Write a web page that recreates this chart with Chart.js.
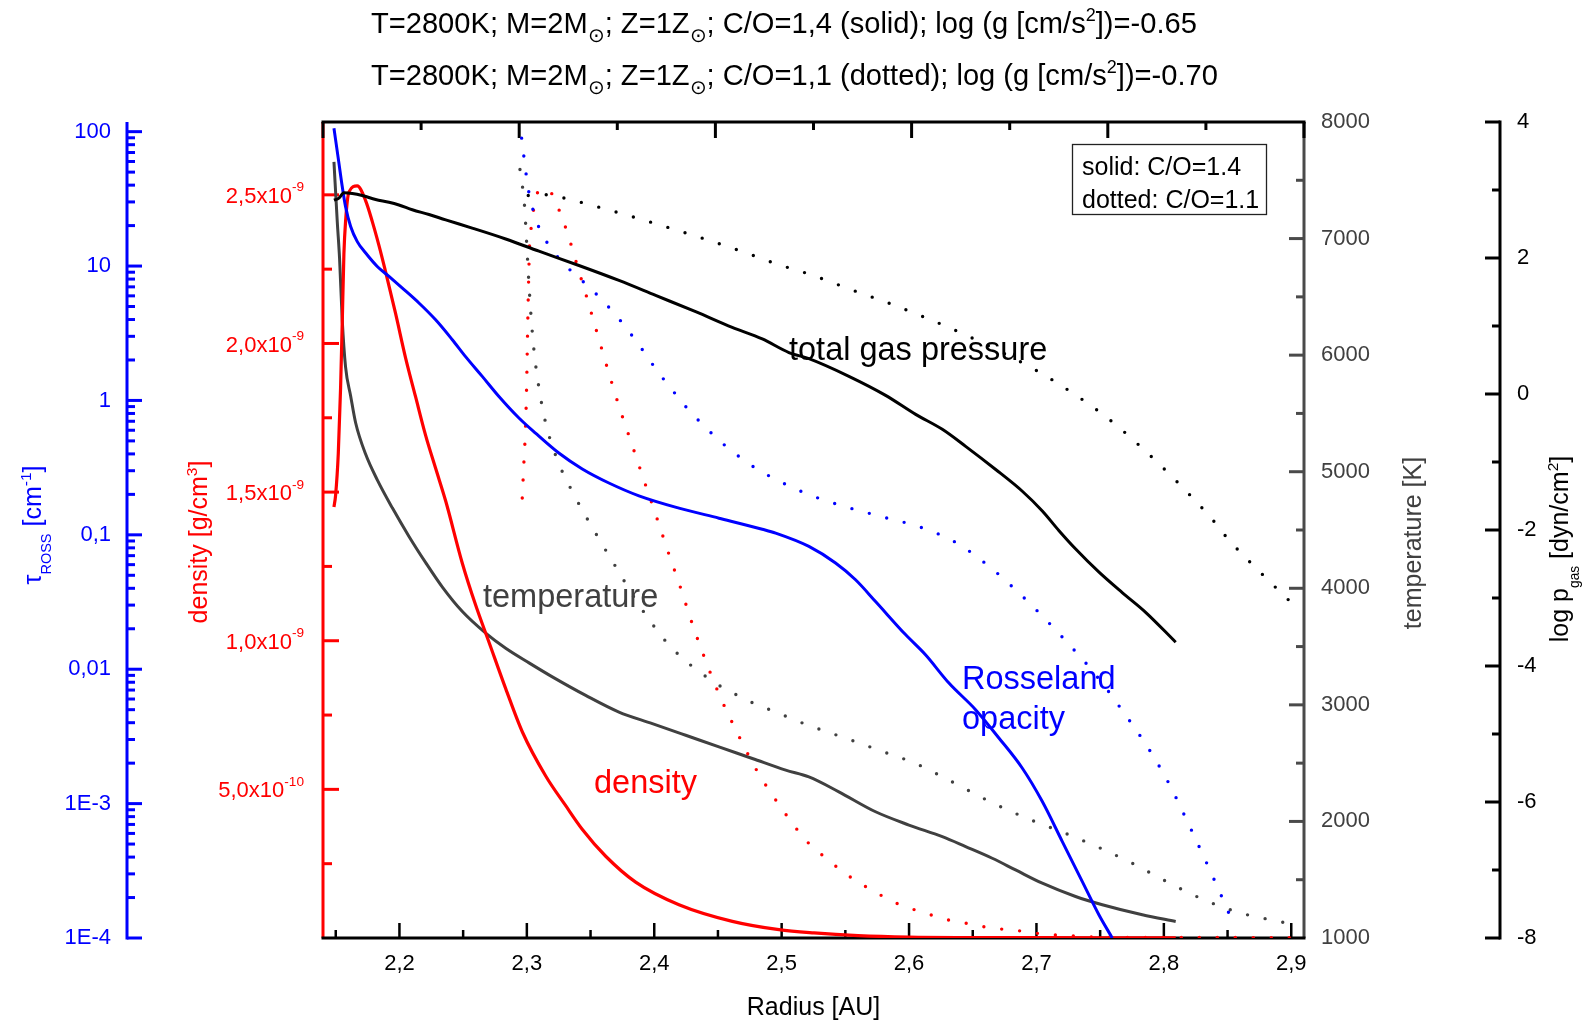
<!DOCTYPE html>
<html>
<head>
<meta charset="utf-8">
<script src="https://cdn.jsdelivr.net/npm/chart.js@4.4.0/dist/chart.umd.min.js"></script>
<style>
  html, body { margin: 0; padding: 0; background: #fff; }
</style>
</head>
<body>
<canvas id="chart" width="1594" height="1027"></canvas>
<script>
// ---- data (radius in AU) ----
// total gas pressure, log p_gas [dyn/cm2]
var presSolidR = [2.1486, 2.1525, 2.1564, 2.1630, 2.1708, 2.1813, 2.1918, 2.1996, 2.2101, 2.2232, 2.2363, 2.2571, 2.2834, 2.3095, 2.3409, 2.3723, 2.4011, 2.4325, 2.4612, 2.4848, 2.5057, 2.5214, 2.5528, 2.5816, 2.6052, 2.6261, 2.6444, 2.6680, 2.6889, 2.7046, 2.7177, 2.7308, 2.7491, 2.7673, 2.7857, 2.8093];
var presSolid  = [2.85, 2.88, 2.96, 2.95, 2.92, 2.86, 2.82, 2.78, 2.71, 2.64, 2.56, 2.44, 2.28, 2.10, 1.89, 1.67, 1.45, 1.21, 0.98, 0.81, 0.61, 0.52, 0.26, -0.02, -0.30, -0.52, -0.77, -1.11, -1.43, -1.72, -2.01, -2.28, -2.62, -2.92, -3.21, -3.65];
var presDotR = [2.3011, 2.3147, 2.3294, 2.3579, 2.3859, 2.4141, 2.4429, 2.4712, 2.4997, 2.5139, 2.5280, 2.5567, 2.5850, 2.6133, 2.6418, 2.6986, 2.7271, 2.7556, 2.7838, 2.8124, 2.8383, 2.8503, 2.8772, 2.9045];
var presDot  = [2.92, 2.93, 2.88, 2.74, 2.59, 2.43, 2.26, 2.08, 1.89, 1.81, 1.72, 1.52, 1.33, 1.12, 0.89, 0.36, 0.03, -0.35, -0.81, -1.33, -1.85, -2.13, -2.65, -3.15];

// Rosseland opacity tau_ROSS [cm-1]
var tauSolidR = [2.1486, 2.1525, 2.1551, 2.1577, 2.1617, 2.1669, 2.1735, 2.1826, 2.1918, 2.2023, 2.2153, 2.2284, 2.2415, 2.2519, 2.2650, 2.2781, 2.2938, 2.3068, 2.3251, 2.3435, 2.3644, 2.3880, 2.4194, 2.4508, 2.4848, 2.4953, 2.5214, 2.5423, 2.5580, 2.5737, 2.5972, 2.6129, 2.6313, 2.6522, 2.6705, 2.6888, 2.7045, 2.7202, 2.7359, 2.7490, 2.7595];
var tauSolid  = [106, 58.3, 39.1, 27.7, 19.7, 15.2, 12.5, 9.93, 8.37, 6.85, 5.31, 3.98, 2.83, 2.12, 1.51, 1.07, 0.740, 0.571, 0.406, 0.309, 0.243, 0.195, 0.158, 0.133, 0.110, 0.103, 0.0820, 0.0617, 0.0463, 0.0319, 0.0181, 0.0128, 0.00789, 0.00500, 0.00308, 0.00184, 0.00104, 0.000524, 0.000264, 0.000149, 0.0001];
var tauDotR = [2.2959, 2.2995, 2.3016, 2.3050, 2.3100, 2.3184, 2.3299, 2.3443, 2.3581, 2.3707, 2.3819, 2.3922, 2.4021, 2.4131, 2.4246, 2.4380, 2.4521, 2.4665, 2.4806, 2.4948, 2.5089, 2.5233, 2.5518, 2.5806, 2.6089, 2.6371, 2.6653, 2.6941, 2.7216, 2.7464, 2.7679, 2.7875, 2.8040, 2.8179, 2.8312, 2.8440, 2.8563];
var tauDot  = [89.5, 47.8, 35.3, 25.9, 18.9, 13.8, 10.2, 7.64, 5.71, 4.22, 3.10, 2.28, 1.67, 1.23, 0.902, 0.662, 0.493, 0.383, 0.309, 0.260, 0.224, 0.196, 0.160, 0.135, 0.114, 0.0873, 0.0557, 0.0313, 0.0168, 0.00910, 0.00485, 0.00261, 0.00141, 0.000755, 0.000405, 0.000218, 0.000117];

// density [g/cm3], in units of 1e-9
var rhoSolidR = [2.1486, 2.1499, 2.1520, 2.1538, 2.1551, 2.1564, 2.1577, 2.1604, 2.1669, 2.1735, 2.1787, 2.1839, 2.1892, 2.1970, 2.2049, 2.2127, 2.2206, 2.2284, 2.2363, 2.2494, 2.2598, 2.2703, 2.2834, 2.2965, 2.3148, 2.3305, 2.3436, 2.3619, 2.3854, 2.4194, 2.4613, 2.4979, 2.5254, 2.5600, 2.6000, 2.6500, 2.7000, 2.7500, 2.8093];
var rhoSolid  = [1.45, 1.49, 1.63, 1.85, 2.07, 2.30, 2.41, 2.51, 2.53, 2.48, 2.41, 2.33, 2.24, 2.10, 1.95, 1.82, 1.69, 1.58, 1.47, 1.26, 1.12, 0.995, 0.839, 0.693, 0.545, 0.445, 0.365, 0.275, 0.188, 0.112, 0.056, 0.028, 0.017, 0.008, 0.003, 0.0015, 0.001, 0.0006, 0.0004];
var rhoDotR = [2.2964, 2.2977, 2.2990, 2.2998, 2.3003, 2.3008, 2.3014, 2.3021, 2.3034, 2.3053, 2.3087, 2.3137, 2.3186, 2.3252, 2.3304, 2.3349, 2.3390, 2.3474, 2.3555, 2.3644, 2.3730, 2.3825, 2.3919, 2.4015, 2.4108, 2.4205, 2.4304, 2.4406, 2.4519, 2.4652, 2.4796, 2.4977, 2.5209, 2.5345, 2.5489, 2.5633, 2.5774, 2.5916, 2.6057, 2.6201, 2.6342, 2.6484, 2.6628, 2.6769, 2.6910, 2.7054, 2.7195, 2.7339, 2.7491, 2.80, 2.86, 2.906];
var rhoDot  = [1.48, 1.60, 1.72, 1.85, 1.97, 2.09, 2.21, 2.33, 2.39, 2.45, 2.51, 2.52, 2.51, 2.45, 2.39, 2.33, 2.27, 2.15, 2.03, 1.90, 1.78, 1.66, 1.54, 1.42, 1.30, 1.18, 1.05, 0.93, 0.81, 0.69, 0.57, 0.45, 0.32, 0.27, 0.22, 0.18, 0.145, 0.114, 0.093, 0.074, 0.057, 0.047, 0.035, 0.028, 0.022, 0.013, 0.009, 0.006, 0.003, 0.002, 0.0015, 0.001];

// temperature [K]
var tempSolidR = [2.1486, 2.1512, 2.1530, 2.1551, 2.1577, 2.1617, 2.1656, 2.1735, 2.1826, 2.1944, 2.2075, 2.2206, 2.2337, 2.2494, 2.2677, 2.2834, 2.3017, 2.3200, 2.3462, 2.3723, 2.3985, 2.4247, 2.4508, 2.4770, 2.5032, 2.5214, 2.5449, 2.5737, 2.5999, 2.6261, 2.6444, 2.6653, 2.6836, 2.7046, 2.7307, 2.7517, 2.7831, 2.8093];
var tempSolid  = [7658, 7144, 6830, 6300, 5900, 5650, 5420, 5149, 4930, 4690, 4445, 4220, 4010, 3800, 3615, 3485, 3360, 3240, 3081, 2938, 2839, 2739, 2639, 2540, 2440, 2382, 2254, 2083, 1969, 1869, 1784, 1684, 1584, 1470, 1356, 1285, 1199, 1142];
var tempDotR = [2.2946, 2.2982, 2.2998, 2.3014, 2.3032, 2.3056, 2.3093, 2.3147, 2.3236, 2.3370, 2.3529, 2.3699, 2.3872, 2.4079, 2.4212, 2.4351, 2.4492, 2.4636, 2.4778, 2.4919, 2.5060, 2.5204, 2.5489, 2.5772, 2.6057, 2.6342, 2.6628, 2.6913, 2.7195, 2.7481, 2.7766, 2.8051, 2.8334, 2.8617, 2.8905, 2.9046];
var tempDot  = [7592, 7279, 6973, 6659, 6349, 6041, 5733, 5422, 5111, 4803, 4493, 4182, 3871, 3560, 3409, 3287, 3178, 3092, 3015, 2953, 2890, 2827, 2719, 2608, 2494, 2337, 2174, 2032, 1912, 1781, 1633, 1467, 1319, 1210, 1142, 1108];

// ---- tick labels ----
var radiusTicks = [2.2, 2.3, 2.4, 2.5, 2.6, 2.7, 2.8, 2.9];
var radiusLabels = ['2,2', '2,3', '2,4', '2,5', '2,6', '2,7', '2,8', '2,9'];
var tauTicks = [1e-4, 1e-3, 0.01, 0.1, 1, 10, 100];
var tauLabels = ['1E-4', '1E-3', '0,01', '0,1', '1', '10', '100'];
var rhoTicks = [0.5, 1.0, 1.5, 2.0, 2.5];
var rhoLabels = [['5,0x10', '-10'], ['1,0x10', '-9'], ['1,5x10', '-9'], ['2,0x10', '-9'], ['2,5x10', '-9']];
var tempTicks = [1000, 2000, 3000, 4000, 5000, 6000, 7000, 8000];
var tempLabels = ['1000', '2000', '3000', '4000', '5000', '6000', '7000', '8000'];
var presTicks = [-8, -6, -4, -2, 0, 2, 4];
var presLabels = ['-8', '-6', '-4', '-2', '0', '2', '4'];

var FONT = '"Liberation Sans", Arial, sans-serif';
var BLUE = '#0000ff', RED = '#ff0000', GREY = '#404040';

function pts(xs, ys) {
  return xs.map(function (x, i) { return { x: x, y: ys[i] }; });
}

// text with sub/superscripts
function drawRich(ctx, parts, x, y, size, color, align, angle, baseline) {
  ctx.save();
  ctx.translate(x, y);
  if (angle) ctx.rotate(angle);
  var segs = [], w = 0;
  parts.forEach(function (p) {
    var o = typeof p === 'string' ? { t: p } : p;
    var fs = o.s ? size * (o.k || 0.62) : size;
    ctx.font = fs + 'px ' + FONT;
    var dy = o.s === 'sub' ? size * (o.d || 0.32) : (o.s === 'sup' ? -size * 0.42 : 0);
    segs.push({ t: o.t, fs: fs, dx: w, dy: dy });
    w += ctx.measureText(o.t).width;
  });
  var x0 = align === 'center' ? -w / 2 : (align === 'right' ? -w : 0);
  ctx.fillStyle = color;
  ctx.textAlign = 'left';
  ctx.textBaseline = baseline || 'alphabetic';
  segs.forEach(function (s) {
    ctx.font = s.fs + 'px ' + FONT;
    ctx.fillText(s.t, x0 + s.dx, s.dy);
  });
  ctx.restore();
}

function line(ctx, x1, y1, x2, y2, color, w) {
  ctx.beginPath();
  ctx.strokeStyle = color;
  ctx.lineWidth = w;
  ctx.moveTo(x1, y1);
  ctx.lineTo(x2, y2);
  ctx.stroke();
}

var axesPlugin = {
  id: 'axes',
  beforeDatasetsDraw: function (chart) {
    var ctx = chart.ctx, a = chart.chartArea, s = chart.scales;
    var v, y, x;
    var tauX = a.left - 196, presX = a.right + 196;
    ctx.save();
    ctx.lineCap = 'butt';

    // red density axis (left frame)
    line(ctx, a.left, a.top, a.left, a.bottom, RED, 3);
    for (v = 0.25; v < 2.745; v += 0.25) {
      y = s.yRho.getPixelForValue(v);
      var major = Math.abs(v * 2 - Math.round(v * 2)) < 1e-6;
      line(ctx, a.left, y, a.left + (major ? 16 : 9), y, RED, 3);
    }
    // grey temperature axis (right frame)
    line(ctx, a.right, a.top, a.right, a.bottom, '#4a4a4a', 3);
    for (v = 1500; v < 8000; v += 500) {
      y = s.yT.getPixelForValue(v);
      line(ctx, a.right, y, a.right - (v % 1000 === 0 ? 15 : 8), y, '#4a4a4a', 3);
    }
    // bottom radius axis
    line(ctx, a.left - 1.5, a.bottom, a.right + 1.5, a.bottom, '#000', 3);
    for (v = 2.15; v < 2.91; v += 0.05) {
      x = s.x.getPixelForValue(v);
      var maj = Math.abs(v * 10 - Math.round(v * 10)) < 1e-6;
      line(ctx, x, a.bottom, x, a.bottom - (maj ? 15 : 8), '#000', 2.5);
    }
    // top frame axis
    line(ctx, a.left - 1.5, a.top, a.right + 1.5, a.top, '#000', 3);
    for (v = 0; v <= 5.001; v += 0.5) {
      x = s.xTop.getPixelForValue(v);
      line(ctx, x, a.top, x, a.top + (v % 1 === 0 ? 16 : 8), '#000', 3);
    }
    // blue tau axis (detached, left)
    line(ctx, tauX, a.top, tauX, a.bottom + 1.5, BLUE, 3);
    for (var d = -4; d <= 2; d++) {
      for (var m = 1; m <= 9; m++) {
        v = m * Math.pow(10, d);
        if (v > s.yTau.max) break;
        y = s.yTau.getPixelForValue(v);
        line(ctx, tauX, y, tauX + (m === 1 ? 15 : 8), y, BLUE, 3);
      }
    }
    // black pressure axis (detached, right)
    line(ctx, presX, a.top - 1.5, presX, a.bottom + 1.5, '#000', 3);
    for (v = -8; v <= 4; v += 1) {
      y = s.yP.getPixelForValue(v);
      line(ctx, presX, y, presX - (v % 2 === 0 ? 15 : 8), y, '#000', 3);
    }

    // tick labels
    var TS = 22;
    radiusTicks.forEach(function (t, k) {
      drawRich(ctx, [radiusLabels[k]], s.x.getPixelForValue(t), 964, TS, '#000', 'center', 0, 'middle');
    });
    tauTicks.forEach(function (t, k) {
      drawRich(ctx, [tauLabels[k]], tauX - 16, s.yTau.getPixelForValue(t), TS, BLUE, 'right', 0, 'middle');
    });
    rhoTicks.forEach(function (t, k) {
      drawRich(ctx, [rhoLabels[k][0], { t: rhoLabels[k][1], s: 'sup' }], a.left - 19, s.yRho.getPixelForValue(t) + 2, TS, RED, 'right', 0, 'middle');
    });
    tempTicks.forEach(function (t, k) {
      drawRich(ctx, [tempLabels[k]], a.right + 17, s.yT.getPixelForValue(t), TS, GREY, 'left', 0, 'middle');
    });
    presTicks.forEach(function (t, k) {
      drawRich(ctx, [presLabels[k]], presX + 17, s.yP.getPixelForValue(t), TS, '#000', 'left', 0, 'middle');
    });

    // axis titles
    var AS = 25;
    drawRich(ctx, ['Radius [AU]'], (a.left + a.right) / 2, 1008, AS, '#000', 'center', 0, 'middle');
    drawRich(ctx, ['\u03c4', { t: 'ROSS', s: 'sub', d: 0.38, k: 0.58 }, ' [cm', { t: '-1', s: 'sup' }, ']'], 41, 525, AS, BLUE, 'center', -Math.PI / 2);
    drawRich(ctx, ['density [g/cm', { t: '3', s: 'sup' }, ']'], 207, 542, AS, RED, 'center', -Math.PI / 2);
    drawRich(ctx, ['temperature [K]'], 1421, 543, AS, GREY, 'center', -Math.PI / 2);
    drawRich(ctx, ['log p', { t: 'gas', s: 'sub', d: 0.42, k: 0.55 }, ' [dyn/cm', { t: '2', s: 'sup' }, ']'], 1568, 549, AS, '#000', 'center', -Math.PI / 2);
    ctx.restore();
  },
  afterDraw: function (chart) {
    var ctx = chart.ctx;
    ctx.save();
    // title lines
    var TT = 29.1;
    var sun = { t: '\u2299', s: 'sub', k: 0.7, d: 0.3 };
    drawRich(ctx, ['T=2800K; M=2M', sun, '; Z=1Z', sun, '; C/O=1,4 (solid); log (g [cm/s', { t: '2', s: 'sup' }, '])=-0.65'], 371, 33, TT, '#000', 'left');
    drawRich(ctx, ['T=2800K; M=2M', sun, '; Z=1Z', sun, '; C/O=1,1 (dotted); log (g [cm/s', { t: '2', s: 'sup' }, '])=-0.70'], 371, 85, TT, '#000', 'left');

    // curve annotations
    var NS = 32.5;
    drawRich(ctx, ['total gas pressure'], 789, 360, NS, '#000', 'left');
    drawRich(ctx, ['temperature'], 483, 607, NS, GREY, 'left');
    drawRich(ctx, ['density'], 594, 793, NS, RED, 'left');
    drawRich(ctx, ['Rosseland'], 962, 689, NS, BLUE, 'left');
    drawRich(ctx, ['opacity'], 962, 729, NS, BLUE, 'left');

    // key box
    ctx.strokeStyle = '#222';
    ctx.lineWidth = 1.3;
    ctx.strokeRect(1072.5, 144.5, 194, 70);
    drawRich(ctx, ['solid: C/O=1.4'], 1082, 175, 25, '#000', 'left');
    drawRich(ctx, ['dotted: C/O=1.1'], 1082, 208, 25, '#000', 'left');
    ctx.restore();
  }
};

function solid(data, axis, color, w) {
  return { data: data, yAxisID: axis, borderColor: color, borderWidth: w, pointRadius: 0,
           cubicInterpolationMode: 'monotone', borderJoinStyle: 'round', fill: false };
}
function dotted(data, axis, color) {
  return { data: data, yAxisID: axis, borderColor: color, borderWidth: 3.4, borderDash: [0, 18],
           borderCapStyle: 'round', pointRadius: 0, cubicInterpolationMode: 'monotone', fill: false };
}

new Chart(document.getElementById('chart').getContext('2d'), {
  type: 'line',
  data: {
    datasets: [
      solid(pts(presSolidR, presSolid), 'yP', '#000', 3),
      dotted(pts(presDotR, presDot), 'yP', '#000'),
      solid(pts(tauSolidR, tauSolid), 'yTau', BLUE, 3),
      dotted(pts(tauDotR, tauDot), 'yTau', BLUE),
      solid(pts(rhoSolidR, rhoSolid), 'yRho', RED, 3.2),
      dotted(pts(rhoDotR, rhoDot), 'yRho', RED),
      solid(pts(tempSolidR, tempSolid), 'yT', GREY, 3),
      dotted(pts(tempDotR, tempDot), 'yT', GREY)
    ]
  },
  options: {
    responsive: false,
    animation: false,
    devicePixelRatio: 1,
    layout: { padding: { left: 323, top: 122, right: 290, bottom: 89 } },
    plugins: { legend: { display: false }, title: { display: false }, tooltip: { enabled: false } },
    scales: {
      x: { type: 'linear', min: 2.14, max: 2.91, display: false },
      xTop: { type: 'linear', axis: 'x', position: 'top', min: 0, max: 5, display: false },
      yRho: { type: 'linear', position: 'left', min: 0, max: 2.745, display: false },
      yTau: { type: 'logarithmic', position: 'left', min: 1e-4, max: 118, display: false },
      yT: { type: 'linear', position: 'right', min: 1000, max: 8000, display: false },
      yP: { type: 'linear', position: 'right', min: -8, max: 4, display: false }
    }
  },
  plugins: [axesPlugin]
});
</script>
</body>
</html>
